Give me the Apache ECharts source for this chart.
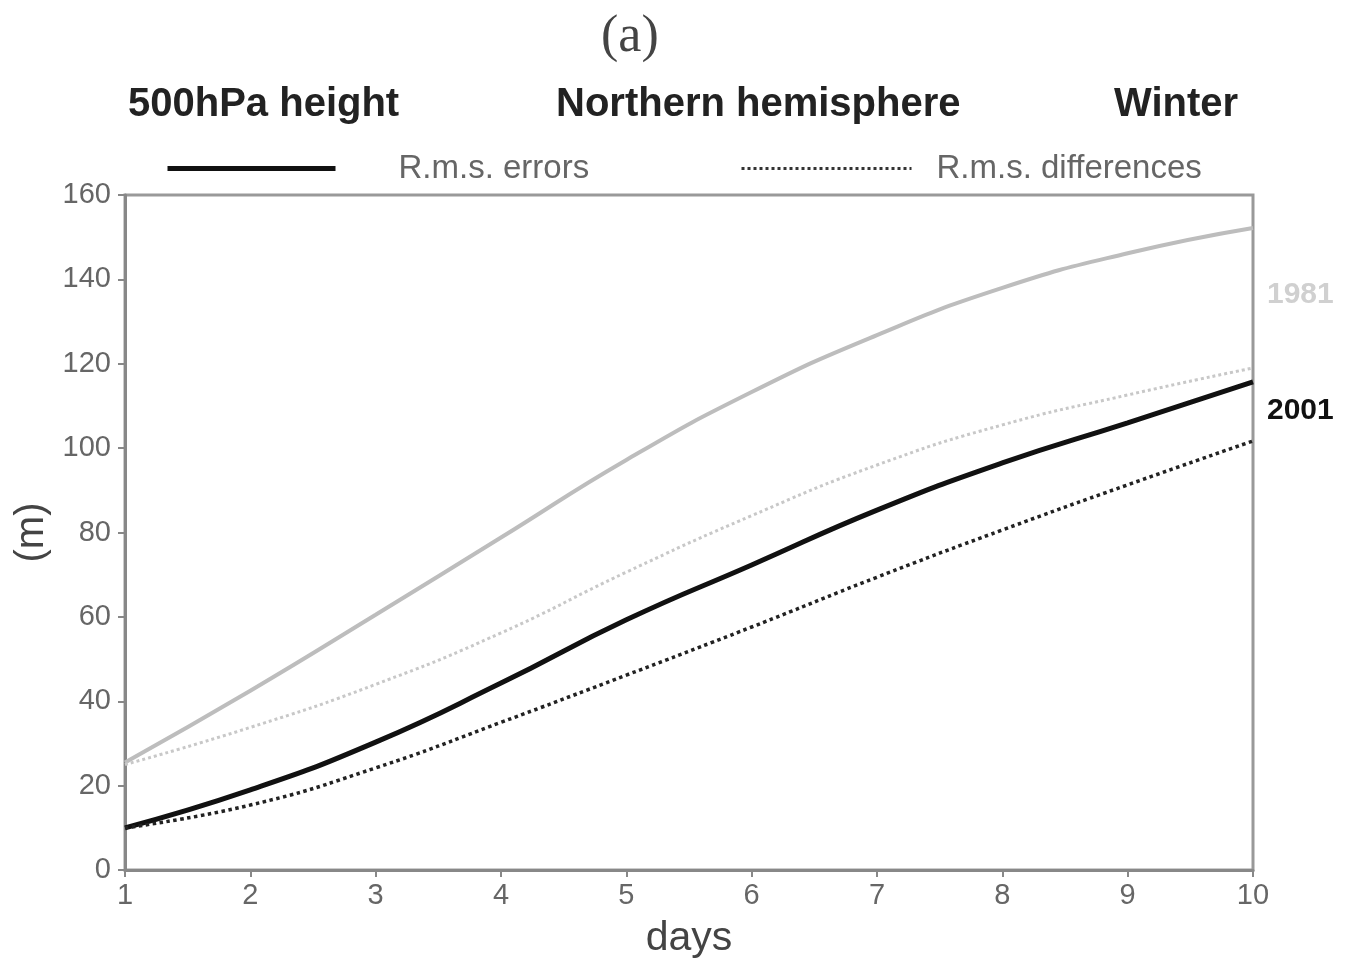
<!DOCTYPE html>
<html>
<head>
<meta charset="utf-8">
<script src="https://cdn.jsdelivr.net/npm/echarts@6/dist/echarts.min.js"></script>
<style>
  html, body { margin: 0; padding: 0; background: #fff; }
  #chart { width: 1356px; height: 958px; }
</style>
</head>
<body>
<div id="chart"></div>
<script>
// forecast day
var days = [1, 2, 3, 4, 5, 6, 7, 8, 9, 10];
// r.m.s. errors / differences (m)
var errors1981 = [25.5, 42.5, 60.5, 78.8, 97.2, 113.3, 126.8, 138.0, 146.2, 152.2];
var diffs1981 = [25.0, 33.8, 44.0, 56.2, 70.6, 84.0, 96.0, 105.5, 112.6, 119.0];
var errors2001 = [10.0, 19.0, 30.3, 44.3, 59.3, 72.3, 85.3, 96.5, 106.0, 115.7];
var diffs2001 = [10.0, 15.4, 24.2, 35.0, 46.2, 57.6, 69.4, 80.6, 91.3, 101.7];

function pairs(vals) {
    return days.map(function (d, i) { return [d, vals[i]]; });
}

var chart = echarts.init(document.getElementById('chart'));
var font = 'Liberation Sans, Arial, sans-serif';

option = {
    backgroundColor: '#fff',
    animation: false,
    title: [
        {text: '(a)', left: 596, top: 6,
         textStyle: {fontFamily: 'Liberation Serif, serif', fontWeight: 'normal', fontSize: 52, color: '#444'}},
        {text: '500hPa height', left: 123, top: 80,
         textStyle: {fontFamily: font, fontWeight: 'bold', fontSize: 40, color: '#222'}},
        {text: 'Northern hemisphere', left: 551, top: 80,
         textStyle: {fontFamily: font, fontWeight: 'bold', fontSize: 40, color: '#222'}},
        {text: 'Winter', left: 1109, top: 80,
         textStyle: {fontFamily: font, fontWeight: 'bold', fontSize: 40, color: '#222'}}
    ],
    legend: [
        {data: ['R.m.s. errors'], left: 160, top: 147, itemWidth: 168, itemHeight: 24,
         itemStyle: {opacity: 0}, lineStyle: {width: 5, color: '#111'},
         textStyle: {fontFamily: font, fontSize: 33, color: '#666', padding: [0, 0, 0, 58]}},
        {data: ['R.m.s. differences'], left: 735, top: 147, itemWidth: 170, itemHeight: 24,
         itemStyle: {opacity: 0}, lineStyle: {width: 3, color: '#333', type: 'dotted'},
         textStyle: {fontFamily: font, fontSize: 33, color: '#666', padding: [0, 0, 0, 20]}}
    ],
    grid: {
        left: 125, right: 103, top: 195, bottom: 88,
        outerBoundsMode: 'none',
        show: true, borderColor: '#999', borderWidth: 3, backgroundColor: 'transparent'
    },
    xAxis: {
        type: 'value', min: 1, max: 10, interval: 1,
        name: 'days', nameLocation: 'middle', nameGap: 48,
        nameTextStyle: {fontFamily: font, fontSize: 41, color: '#444'},
        axisLine: {lineStyle: {color: '#888', width: 3}},
        axisTick: {show: true, length: 7, lineStyle: {color: '#888', width: 2}},
        axisLabel: {fontFamily: font, fontSize: 29, color: '#666', margin: 11},
        splitLine: {show: false}
    },
    yAxis: {
        type: 'value', min: 0, max: 160, interval: 20,
        name: '(m)', nameLocation: 'middle', nameGap: 68, nameRotate: 90,
        nameTextStyle: {fontFamily: font, fontSize: 40, color: '#444'},
        axisLine: {show: true, lineStyle: {color: '#888', width: 3}},
        axisTick: {show: true, length: 7, lineStyle: {color: '#888', width: 2}},
        axisLabel: {fontFamily: font, fontSize: 29, color: '#666', margin: 14},
        splitLine: {show: false}
    },
    graphic: [
        {type: 'text', left: 1267, top: 280,
         style: {text: '1981', font: 'bold 30px Liberation Sans', fill: '#d0d0d0'}},
        {type: 'text', left: 1267, top: 396,
         style: {text: '2001', font: 'bold 30px Liberation Sans', fill: '#111'}}
    ],
    series: [
        {name: '1981 errors', type: 'line', smooth: true, showSymbol: false,
         data: pairs(errors1981), lineStyle: {color: '#bdbdbd', width: 4}},
        {name: '1981 differences', type: 'line', smooth: true, showSymbol: false,
         data: pairs(diffs1981), lineStyle: {color: '#c8c8c8', width: 3, type: 'dotted'}},
        {name: '2001 errors', type: 'line', smooth: true, showSymbol: false,
         data: pairs(errors2001), lineStyle: {color: '#111', width: 5}},
        {name: '2001 differences', type: 'line', smooth: true, showSymbol: false,
         data: pairs(diffs2001), lineStyle: {color: '#222', width: 3.5, type: 'dotted'}},
        // legend-only entries
        {name: 'R.m.s. errors', type: 'line', symbol: 'none', data: [],
         itemStyle: {color: '#111'}, lineStyle: {color: '#111', width: 5}},
        {name: 'R.m.s. differences', type: 'line', symbol: 'none', data: [],
         itemStyle: {color: '#333'}, lineStyle: {color: '#333', width: 3, type: 'dotted'}}
    ]
};

option && chart.setOption(option);
</script>
</body>
</html>
